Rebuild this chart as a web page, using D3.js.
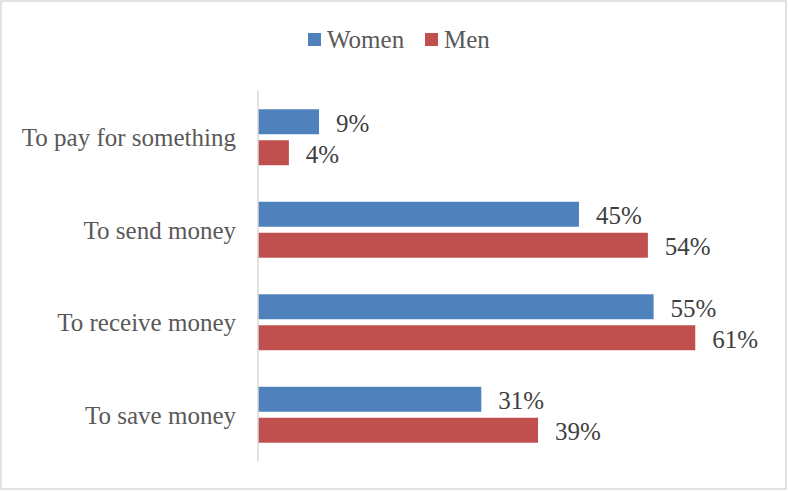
<!DOCTYPE html>
<html>
<head>
<meta charset="utf-8">
<script src="https://cdn.jsdelivr.net/npm/d3@7/dist/d3.min.js"></script>
<style>
  html, body { margin: 0; padding: 0; background: #fff; }
  svg { display: block; }
</style>
</head>
<body>
<svg id="chart" width="788" height="491"></svg>
<script>
// ---- data ----
const categories = ["To pay for something", "To send money", "To receive money", "To save money"];
const seriesNames = ["Women", "Men"];
const women = [8.5, 44.7, 55.1, 31.1];
const men = [4.3, 54.3, 60.9, 39.0];
const colors = ["#4F81BD", "#C0504D"];

const values = [women, men];
const font = "'Liberation Serif', 'Times New Roman', serif";
const fs = 25;

const svg = d3.select("#chart");

// chart border
svg.append("rect")
  .attr("x", 1).attr("y", 1).attr("width", 785).attr("height", 488)
  .attr("fill", "#fff").attr("stroke", "#D9D9D9").attr("stroke-width", 1.5);

const plot = { left: 258, right: 760.6, top: 91, bottom: 461 };

const x = d3.scaleLinear().domain([0, 70]).range([plot.left, plot.right]);
const y0 = d3.scaleBand().domain(categories).range([plot.top, plot.bottom])
  .paddingInner(0.395).paddingOuter(0.1975);
const y1 = d3.scaleBand().domain(seriesNames).range([0, y0.bandwidth()])
  .paddingInner(0.194).paddingOuter(0);

// bars
const g = svg.append("g");
categories.forEach((cat, ci) => {
  seriesNames.forEach((s, si) => {
    const v = values[si][ci];
    const yy = y0(cat) + y1(s);
    g.append("rect")
      .attr("x", x(0)).attr("y", yy)
      .attr("width", x(v) - x(0)).attr("height", y1.bandwidth())
      .attr("fill", colors[si]);
    g.append("text")
      .attr("x", x(v) + 17).attr("y", yy + y1.bandwidth() / 2)
      .attr("dy", "0.4em")
      .attr("font-family", font).attr("font-size", fs)
      .attr("fill", "#404040")
      .text(Math.round(v) + "%");
  });
});

// category axis
const axis = d3.axisLeft(y0).tickSize(0).tickPadding(22);
const ag = svg.append("g").attr("transform", `translate(${plot.left},0)`).call(axis);
ag.select(".domain").attr("stroke", "#D9D9D9").attr("stroke-width", 1.5)
  .attr("d", `M0,${plot.top}V${plot.bottom}`);
ag.selectAll("text")
  .attr("font-family", font).attr("font-size", fs).attr("fill", "#595959")
  .attr("dy", "0.35em");

// legend
const legend = svg.append("g");
const legendItems = [{ name: "Women", x: 308 }, { name: "Men", x: 425 }];
legendItems.forEach((d, i) => {
  legend.append("rect").attr("x", d.x).attr("y", 33).attr("width", 13).attr("height", 13)
    .attr("fill", colors[i]);
  legend.append("text").attr("x", d.x + 19).attr("y", 40).attr("dy", "0.33em")
    .attr("font-family", font).attr("font-size", fs).attr("fill", "#595959")
    .text(d.name);
});
</script>
</body>
</html>
